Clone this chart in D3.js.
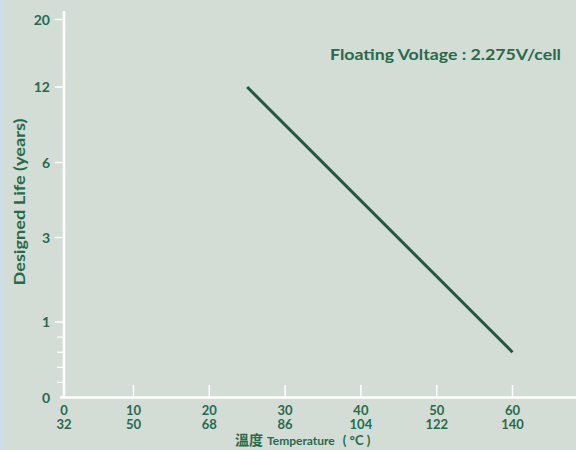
<!DOCTYPE html>
<html><head><meta charset="utf-8">
<script src="https://cdn.jsdelivr.net/npm/d3@7"></script>
<style>html,body{margin:0;padding:0;background:#d4dcd6;}svg{display:block;}</style>
</head><body>
<svg id="c" width="576" height="450"></svg>
<script>
// Data
const tempC = [0, 10, 20, 30, 40, 50, 60];
const tempF = [32, 50, 68, 86, 104, 122, 140];
const yTickValues = [0, 1, 3, 6, 12, 20];
const yMinorTicks = [0.2, 0.4, 0.6, 0.8];
const lineTemp = [25, 60];
const lineLife = [12, 0.6];
const annotation = "Floating Voltage : 2.275V/cell";

const svg = d3.select("#c");
const green = "#256b4b";
svg.append("rect").attr("width",576).attr("height",450).attr("fill","#d4dcd6");
svg.append("rect").attr("width",3).attr("height",450).attr("fill","#cddfe6");

const x = d3.scaleLinear().domain([0,10,60]).range([64,133.5,512.5]);
const y = d3.scaleLinear().domain(yTickValues).range([397.5,322,237.5,162.5,87,19.5]);

// axes lines
svg.append("line").attr("x1",64).attr("x2",64).attr("y1",11).attr("y2",397.5)
  .attr("stroke","#fff").attr("stroke-width",2.5);
svg.append("line").attr("x1",60).attr("x2",576).attr("y1",397.5).attr("y2",397.5)
  .attr("stroke","#fff").attr("stroke-width",2.5);

// y ticks
svg.selectAll(".yt").data(yTickValues.filter(d=>d>0)).join("line")
  .attr("x1",55).attr("x2",64).attr("y1",d=>y(d)).attr("y2",d=>y(d))
  .attr("stroke","#fff").attr("stroke-width",1.5);
svg.selectAll(".ym").data(yMinorTicks).join("line")
  .attr("x1",57).attr("x2",64).attr("y1",d=>y(d)).attr("y2",d=>y(d))
  .attr("stroke","#fff").attr("stroke-width",1.2);
svg.selectAll(".yl").data(yTickValues).join("text")
  .attr("x",50).attr("y",d=>y(d)+5).attr("text-anchor","end")
  .attr("font-family","Lato, sans-serif").attr("font-weight","bold").attr("font-size",14)
  .attr("fill",green).text(d=>d);

// x ticks
svg.selectAll(".xt").data(tempC.filter(d=>d>0)).join("line")
  .attr("x1",d=>x(d)).attr("x2",d=>x(d)).attr("y1",385).attr("y2",397.5)
  .attr("stroke","#fff").attr("stroke-width",1.5);
svg.selectAll(".xl").data(tempC).join("text")
  .attr("x",d=>x(d)).attr("y",414.5).attr("text-anchor","middle")
  .attr("font-family","Lato, sans-serif").attr("font-weight","bold").attr("font-size",13)
  .attr("fill",green).text(d=>d);
svg.selectAll(".xf").data(tempF).join("text")
  .attr("x",(d,i)=>x(tempC[i])).attr("y",429).attr("text-anchor","middle")
  .attr("font-family","Lato, sans-serif").attr("font-weight","bold").attr("font-size",13)
  .attr("fill",green).text(d=>d);

// line
const pts = lineTemp.map((t,i)=>[t,lineLife[i]]);
svg.append("path").datum(pts)
  .attr("d", d3.line().x(d=>x(d[0])).y(d=>y(d[1])))
  .attr("fill","none").attr("stroke","#1d5a3e").attr("stroke-width",3);

// annotation
svg.append("text").attr("x",330).attr("y",60)
  .attr("font-family","Lato, sans-serif").attr("font-weight","bold").attr("font-size",16)
  .attr("textLength",231).attr("lengthAdjust","spacingAndGlyphs")
  .attr("fill",green).text(annotation);

// y title
svg.append("text").attr("transform","translate(25,202) rotate(-90)")
  .attr("text-anchor","middle")
  .attr("font-family","Lato, sans-serif").attr("font-weight","bold").attr("font-size",15)
  .attr("textLength",167).attr("lengthAdjust","spacingAndGlyphs")
  .attr("fill",green).text("Designed Life (years)");

// x title
const xt = svg.append("text").attr("x",235).attr("y",445).attr("fill",green)
  .attr("font-family","Lato, sans-serif").attr("font-weight","bold");
xt.append("tspan").attr("font-family","Noto Sans CJK TC").attr("font-size",14).text("溫度");
xt.append("tspan").attr("dx",4).attr("font-size",12).text("Temperature");
xt.append("tspan").attr("dx",8).attr("font-size",13).text("( °C )");
</script>
</body></html>
